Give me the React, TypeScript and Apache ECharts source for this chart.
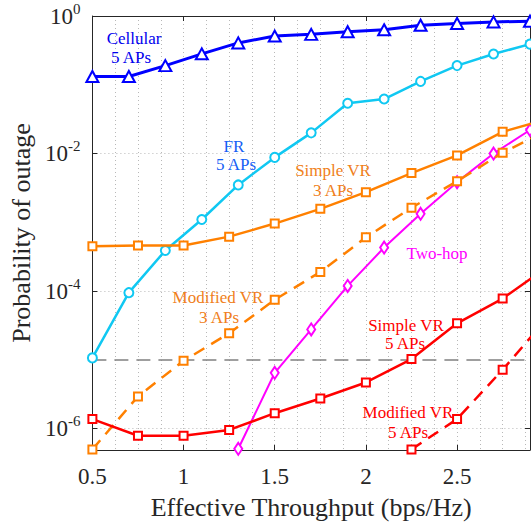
import React, { useEffect, useRef } from "react";
import * as echarts from "echarts";

// ---- data ----
const xFine = [0.5, 0.7, 0.9, 1.1, 1.3, 1.5, 1.7, 1.9, 2.1, 2.3, 2.5, 2.7, 2.9];
const xCoarse = [0.5, 0.75, 1.0, 1.25, 1.5, 1.75, 2.0, 2.25, 2.5, 2.75, 3.0];
const xTwoHop = [1.3, 1.5, 1.7, 1.9, 2.1, 2.3, 2.5, 2.7, 2.9];
const xModVR5 = [2.25, 2.5, 2.75, 3.0];

const cellular5 = [0.132, 0.132, 0.19, 0.282, 0.406, 0.511, 0.541, 0.59, 0.63, 0.735, 0.78, 0.82, 0.84];
const fr5 = [1.07e-5, 9.5e-5, 3.9e-4, 1.1e-3, 3.5e-3, 8.8e-3, 0.02, 0.054, 0.062, 0.112, 0.19, 0.28, 0.39];
const simpleVR3 = [4.5e-4, 4.6e-4, 4.6e-4, 6.2e-4, 9.6e-4, 1.57e-3, 2.75e-3, 5.2e-3, 9.4e-3, 0.0207, 0.032];
const modifiedVR3 = [5e-7, 2.95e-6, 9.7e-6, 2.44e-5, 7.5e-5, 1.9e-4, 6.05e-4, 1.63e-3, 3.96e-3, 0.0103, 0.022];
const twoHop = [5.1e-7, 6.5e-6, 2.77e-5, 1.19e-4, 4.3e-4, 1.33e-3, 3.84e-3, 0.01, 0.022];
const simpleVR5 = [1.38e-6, 7.9e-7, 7.9e-7, 9.6e-7, 1.68e-6, 2.75e-6, 4.7e-6, 1.03e-5, 3.4e-5, 7.8e-5, 2.3e-4];
const modifiedVR5 = [5e-7, 1.38e-6, 7.2e-6, 4.2e-5];

const thresholdX = [0.5, 2.9];
const thresholdValue = 1e-5;

const xTickValues = [0.5, 1, 1.5, 2, 2.5];
const yTickValues = [1, 1e-2, 1e-4, 1e-6];

const FONT = "Liberation Serif";
const AXIS_COLOR = "#262626";

const pairs = (xs: number[], ys: number[]) => ys.map((y, i) => [xs[i], y]);

export default function App() {
  const ref = useRef<HTMLDivElement>(null);

  useEffect(() => {
    if (!ref.current) return;
    const chart = echarts.init(ref.current, null, { renderer: "svg" });

    const mk = (
      name: string,
      data: number[][],
      color: string,
      symbol: string,
      symbolSize: number | number[],
      width: number,
      dashed: boolean,
      z: number
    ) => ({
      name,
      type: "line",
      data,
      z,
      symbol,
      symbolSize,
      showSymbol: true,
      clip: true,
      lineStyle: { color, width, type: dashed ? [12, 8] : "solid" },
      itemStyle: { color: "#ffffff", borderColor: color, borderWidth: 2 },
      emphasis: { disabled: true },
    });

    const gridLine = { type: [1, 3], color: "#b8b8b8", width: 1 };

    const option = {
      animation: false,
      grid: { left: 92, right: 1, top: 16, bottom: 70, containLabel: false },
      xAxis: [
        {
          type: "value",
          min: 0.5,
          max: 2.9,
          interval: 0.5,
          name: "Effective Throughput (bps/Hz)",
          nameLocation: "middle",
          nameGap: 44,
          nameTextStyle: { fontFamily: FONT, fontSize: 26, color: AXIS_COLOR },
          axisLine: { show: true, lineStyle: { color: AXIS_COLOR, width: 1 } },
          axisTick: { show: true, inside: true, length: 5, lineStyle: { color: AXIS_COLOR } },
          axisLabel: {
            fontFamily: FONT,
            fontSize: 23,
            color: AXIS_COLOR,
            margin: 15,
            showMaxLabel: false,
            formatter: (v: number) => (xTickValues.includes(v) ? String(v) : ""),
          },
          splitLine: { show: true, lineStyle: gridLine },
          minorTick: { show: false, splitNumber: 4 },
          minorSplitLine: { show: true, lineStyle: gridLine },
        },
        {
          type: "value",
          position: "top",
          min: 0.5,
          max: 2.9,
          interval: 0.5,
          axisLine: { show: true, lineStyle: { color: AXIS_COLOR, width: 1 } },
          axisTick: { show: true, inside: true, length: 5, lineStyle: { color: AXIS_COLOR } },
          axisLabel: { show: false },
          splitLine: { show: false },
        },
      ],
      yAxis: [
        {
          type: "log",
          logBase: 10,
          min: 4.9e-7,
          max: 1,
          name: "Probability of outage",
          nameLocation: "middle",
          nameGap: 56,
          nameTextStyle: { fontFamily: FONT, fontSize: 26, color: AXIS_COLOR },
          axisLine: { show: true, lineStyle: { color: AXIS_COLOR, width: 1 } },
          axisTick: {
            show: true,
            inside: true,
            length: 5,
            customValues: yTickValues,
            lineStyle: { color: AXIS_COLOR },
          },
          axisLabel: {
            customValues: yTickValues,
            margin: 12,
            color: AXIS_COLOR,
            formatter: (v: number) => `{b|10}{s|${Math.round(Math.log10(v))}}`,
            rich: {
              b: { fontFamily: FONT, fontSize: 23, lineHeight: 30, color: AXIS_COLOR, verticalAlign: "middle" },
              s: { fontFamily: FONT, fontSize: 15, lineHeight: 15, color: AXIS_COLOR, verticalAlign: "top" },
            },
          },
          splitLine: { show: true, lineStyle: gridLine },
          minorTick: { show: false },
          minorSplitLine: { show: false },
        },
        {
          type: "log",
          logBase: 10,
          position: "right",
          min: 4.9e-7,
          max: 1,
          axisLine: { show: true, lineStyle: { color: AXIS_COLOR, width: 1 } },
          axisTick: {
            show: true,
            inside: true,
            length: 5,
            customValues: yTickValues,
            lineStyle: { color: AXIS_COLOR },
          },
          axisLabel: { show: false },
          splitLine: { show: false },
        },
      ],
      series: [
        {
          name: "Threshold",
          type: "line",
          data: thresholdX.map((x) => [x, thresholdValue]),
          symbol: "none",
          z: 1,
          lineStyle: { color: "#808080", width: 1.5, type: [14, 8] },
          emphasis: { disabled: true },
        },
        mk("Cellular 5 APs", pairs(xFine, cellular5), "#0000ff", "triangle", [12, 11], 3, false, 2),
        mk("FR 5 APs", pairs(xFine, fr5), "#10c8f2", "circle", 9, 2.5, false, 3),
        mk("Two-hop", pairs(xTwoHop, twoHop), "#ff00ff", "diamond", [8, 12], 2, false, 4),
        mk("Simple VR 3 APs", pairs(xCoarse, simpleVR3), "#ff8000", "rect", 8, 2.5, false, 5),
        mk("Modified VR 3 APs", pairs(xCoarse, modifiedVR3), "#ff8000", "rect", 8, 2.5, true, 5),
        mk("Simple VR 5 APs", pairs(xCoarse, simpleVR5), "#ff0000", "rect", 8, 2.5, false, 6),
        mk("Modified VR 5 APs", pairs(xModVR5, modifiedVR5), "#ff0000", "rect", 8, 2.5, true, 6),
      ],
      graphic: [
        ...[
          { t: "Cellular", x: 134, y: 38, c: "#0000ee" },
          { t: "5 APs", x: 131, y: 57, c: "#0000ee" },
          { t: "FR", x: 234, y: 146, c: "#1560f5" },
          { t: "5 APs", x: 236, y: 164, c: "#1560f5" },
          { t: "Simple VR", x: 333, y: 170, c: "#f08020" },
          { t: "3 APs", x: 333, y: 190, c: "#f08020" },
          { t: "Modified VR", x: 218, y: 297, c: "#f08020" },
          { t: "3 APs", x: 219, y: 317, c: "#f08020" },
          { t: "Two-hop", x: 437, y: 253, c: "#ff00ff" },
          { t: "Simple VR", x: 406, y: 325, c: "#ff0000" },
          { t: "5 APs", x: 405, y: 343, c: "#ff0000" },
          { t: "Modified VR", x: 408, y: 412, c: "#ff0000" },
          { t: "5 APs", x: 408, y: 432, c: "#ff0000" },
        ].map((a) => ({
          type: "text",
          x: a.x,
          y: a.y,
          z: 100,
          silent: true,
          style: {
            text: a.t,
            fill: a.c,
            font: `17px '${FONT}'`,
            textAlign: "center",
            textVerticalAlign: "middle",
          },
        })),
      ],
    };

    chart.setOption(option as any);
    return () => chart.dispose();
  }, []);

  return (
    <div
      ref={ref}
      style={{ position: "fixed", left: 0, top: 0, width: 531, height: 525, background: "#ffffff" }}
    />
  );
}
